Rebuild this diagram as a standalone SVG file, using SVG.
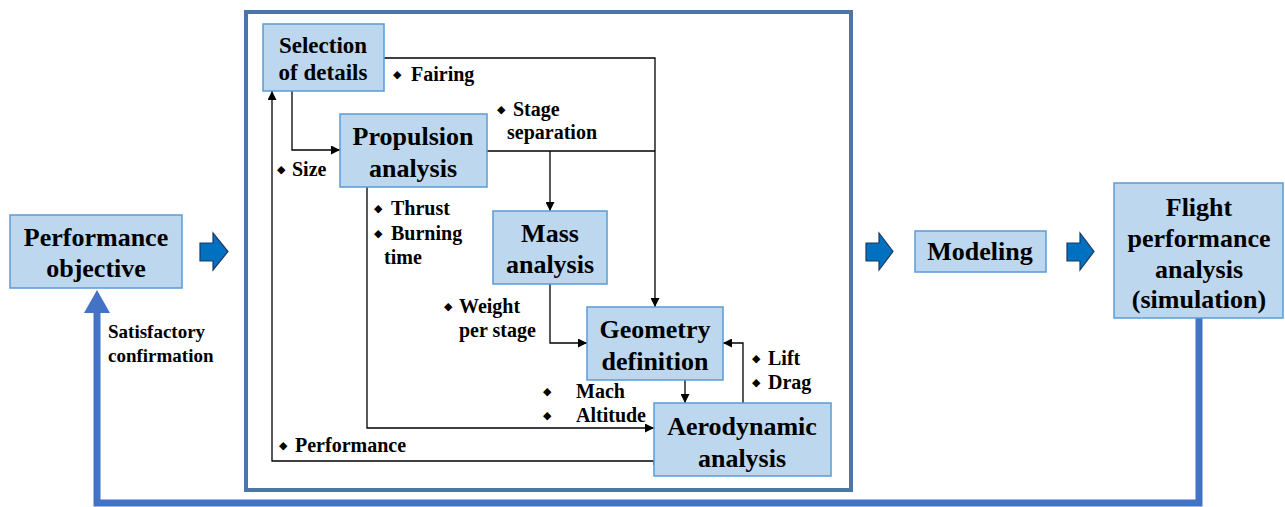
<svg xmlns="http://www.w3.org/2000/svg" width="1285" height="507" viewBox="0 0 1285 507">
<style>
.box{fill:#bdd7ee;stroke:#5b9bd5;stroke-width:1.5}
.nt{font-weight:bold;font-size:26px;fill:#000;text-anchor:middle}
.sm{font-size:23px}
.lb{font-weight:bold;font-size:20px;fill:#000}
.lb19{font-size:19px}
.bu{font-size:11px;fill:#000}
.cn{fill:none;stroke:#000;stroke-width:1.3;marker-end:url(#ah)}
.cn0{fill:none;stroke:#000;stroke-width:1.3}
.blk{fill:#0070c0;stroke:#1f3864;stroke-width:1.2}
</style>
<defs>
<marker id="ah" viewBox="0 0 10 10" refX="10" refY="5" markerWidth="9" markerHeight="9" markerUnits="userSpaceOnUse" orient="auto">
<path d="M0,0 L10,5 L0,10 z" fill="#000"/>
</marker>
</defs>
<rect width="1285" height="507" fill="#fff"/>
<rect id="frame" x="246" y="12" width="605" height="478" fill="none" stroke="#4a76a8" stroke-width="4"/>

<g id="connectors">
<path class="cn" d="M384,58 H655 V307"/>
<path class="cn0" d="M487,151 H655"/>
<path class="cn" d="M550,151 V211"/>
<path class="cn" d="M292,91 V150 H340"/>
<path class="cn" d="M654,465 V461 H272 V91"/>
<path class="cn" d="M367,187 V428 H654"/>
<path class="cn" d="M550,284 V343 H587"/>
<path class="cn" d="M685,380 V403"/>
<path class="cn" d="M743,403 V343 H723"/>
<path d="M1199,318 V503 H97 V312" fill="none" stroke="#4472c4" stroke-width="7"/>
<path d="M84,313 L97,290 L110,313 z" fill="#4472c4"/>
<path class="blk" d="M200,243 H213 V233 L228,251.5 L213,270 V261 H200 z"/>
<path class="blk" d="M866,243 H879 V233 L893,251.5 L879,270 V261 H866 z"/>
<path class="blk" d="M1067,243 H1080 V233 L1094,251.5 L1080,270 V261 H1067 z"/>
</g>

<g font-family="Liberation Serif, serif">
<g id="performance-objective">
<rect class="box" x="10" y="215" width="172" height="73"/>
<text class="nt" x="96" y="246">Performance</text>
<text class="nt" x="96" y="277">objective</text>
</g>
<g id="selection">
<rect class="box" x="263" y="24" width="121" height="67"/>
<text class="nt sm" x="323" y="53">Selection</text>
<text class="nt sm" x="323" y="80">of details</text>
</g>
<g id="propulsion">
<rect class="box" x="340" y="114" width="147" height="73"/>
<text class="nt" x="413" y="145">Propulsion</text>
<text class="nt" x="413" y="177">analysis</text>
</g>
<g id="mass">
<rect class="box" x="493" y="211" width="114" height="73"/>
<text class="nt" x="550" y="242">Mass</text>
<text class="nt" x="550" y="273">analysis</text>
</g>
<g id="geometry">
<rect class="box" x="587" y="307" width="136" height="73"/>
<text class="nt" x="655" y="338">Geometry</text>
<text class="nt" x="655" y="370">definition</text>
</g>
<g id="aerodynamic">
<rect class="box" x="654" y="403" width="177" height="73"/>
<text class="nt" x="742" y="435">Aerodynamic</text>
<text class="nt" x="742" y="467">analysis</text>
</g>
<g id="modeling">
<rect class="box" x="915" y="231" width="131" height="41"/>
<text class="nt" x="980" y="260">Modeling</text>
</g>
<g id="flight">
<rect class="box" x="1114" y="183" width="169" height="135"/>
<text class="nt" x="1199" y="216">Flight</text>
<text class="nt" x="1199" y="247">performance</text>
<text class="nt" x="1199" y="278">analysis</text>
<text class="nt" x="1199" y="308">(simulation)</text>
</g>

<g id="labels">
<g font-family="DejaVu Sans, sans-serif">
<text class="bu" x="393" y="78">◆</text>
<text class="bu" x="497" y="113">◆</text>
<text class="bu" x="277" y="173">◆</text>
<text class="bu" x="374" y="212">◆</text>
<text class="bu" x="374" y="237">◆</text>
<text class="bu" x="444" y="310">◆</text>
<text class="bu" x="752" y="362">◆</text>
<text class="bu" x="752" y="386">◆</text>
<text class="bu" x="543" y="395">◆</text>
<text class="bu" x="543" y="419">◆</text>
<text class="bu" x="279" y="449">◆</text>
</g>
<text class="lb" x="411" y="81">Fairing</text>
<text class="lb" x="513" y="116">Stage</text>
<text class="lb" x="507" y="139">separation</text>
<text class="lb" x="292" y="176">Size</text>
<text class="lb" x="391" y="215">Thrust</text>
<text class="lb" x="391" y="240">Burning</text>
<text class="lb" x="384" y="264">time</text>
<text class="lb" x="459" y="313">Weight</text>
<text class="lb" x="459" y="337">per stage</text>
<text class="lb" x="768" y="365">Lift</text>
<text class="lb" x="768" y="389">Drag</text>
<text class="lb" x="576" y="398">Mach</text>
<text class="lb" x="576" y="422">Altitude</text>
<text class="lb" x="295" y="452">Performance</text>
<text class="lb lb19" x="108" y="338">Satisfactory</text>
<text class="lb lb19" x="108" y="362">confirmation</text>
</g>
</g>
</svg>
